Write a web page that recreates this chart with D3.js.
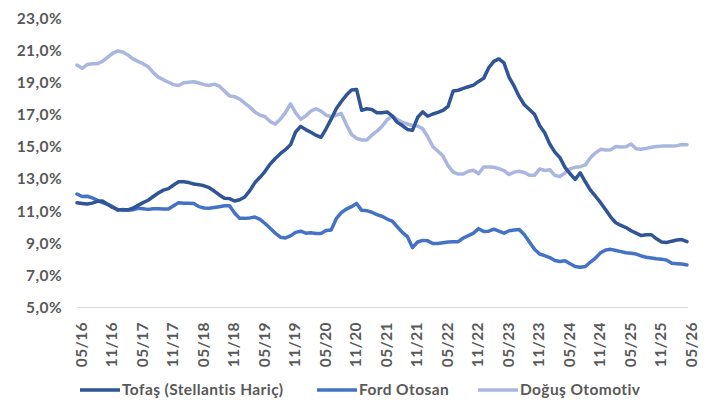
<!DOCTYPE html>
<html>
<head>
<meta charset="utf-8">
<script src="https://cdn.jsdelivr.net/npm/d3@7"></script>
<style>
  body { margin: 0; background: #fff; }
  svg { display: block; font-family: Lato, sans-serif; }
</style>
</head>
<body>
<div id="chart"></div>
<script>
// monthly shares (%) from 05/16 to 05/26
var tofas = [
  11.49, 11.45, 11.41, 11.47, 11.58, 11.6, 11.4, 11.2, 11.08, 11.04,
  11.05, 11.15, 11.33, 11.5, 11.65, 11.88, 12.1, 12.28, 12.37, 12.6,
  12.8, 12.8, 12.75, 12.66, 12.62, 12.55, 12.43, 12.22, 11.98, 11.77,
  11.75, 11.6, 11.68, 11.85, 12.25, 12.75, 13.08, 13.45, 13.9, 14.25,
  14.55, 14.8, 15.1, 15.9, 16.25, 16.05, 15.88, 15.7, 15.57, 16.1,
  16.7, 17.35, 17.8, 18.2, 18.52, 18.55, 17.25, 17.35, 17.3, 17.1,
  17.1, 17.15, 16.9, 16.5, 16.3, 16.06, 16.0, 16.8, 17.15, 16.88,
  17.02, 17.12, 17.25, 17.5, 18.45, 18.5, 18.62, 18.72, 18.82, 19.05,
  19.24, 19.9, 20.3, 20.45, 20.2, 19.3, 18.75, 18.1, 17.6, 17.3,
  17.0, 16.3, 15.85, 15.15, 14.65, 14.3, 13.7, 13.3, 12.95, 13.36,
  12.8, 12.28, 11.9, 11.5, 11.05, 10.6, 10.25, 10.08, 9.95, 9.75,
  9.6, 9.45, 9.5, 9.5, 9.25, 9.05, 9.02, 9.1, 9.17, 9.2,
  9.07
];
var ford = [
  12.04, 11.88, 11.9, 11.8, 11.65, 11.5, 11.4, 11.25, 11.02, 11.07,
  11.02, 11.05, 11.15, 11.12, 11.08, 11.12, 11.12, 11.1, 11.1, 11.3,
  11.5, 11.46, 11.46, 11.45, 11.25, 11.17, 11.15, 11.2, 11.25, 11.3,
  11.3, 10.85, 10.52, 10.52, 10.55, 10.6, 10.46, 10.2, 9.9, 9.6,
  9.35, 9.3, 9.43, 9.65, 9.72, 9.6, 9.62, 9.58, 9.58, 9.76,
  9.8, 10.5, 10.88, 11.1, 11.25, 11.45, 11.02, 11.0, 10.9, 10.75,
  10.65, 10.48, 10.35, 10.0, 9.65, 9.38, 8.7, 9.05, 9.15, 9.12,
  8.95, 8.95, 9.0, 9.05, 9.07, 9.07, 9.3, 9.45, 9.6, 9.88,
  9.7, 9.72, 9.85, 9.72, 9.6, 9.75, 9.8, 9.83, 9.5, 9.05,
  8.6, 8.3, 8.2, 8.08, 7.9, 7.83, 7.88, 7.7, 7.52, 7.47,
  7.52, 7.8, 8.05, 8.38, 8.55, 8.59, 8.52, 8.45, 8.38, 8.35,
  8.3, 8.18, 8.1, 8.05, 8.0, 7.98, 7.92, 7.72, 7.7, 7.68,
  7.62
];
var dogus = [
  20.07, 19.86, 20.1, 20.15, 20.15, 20.3, 20.55, 20.8, 20.95, 20.88,
  20.7, 20.45, 20.3, 20.15, 19.97, 19.6, 19.32, 19.15, 19.0, 18.85,
  18.8, 18.97, 19.0, 19.03, 18.95, 18.85, 18.8, 18.88, 18.75, 18.45,
  18.15, 18.1, 17.95, 17.7, 17.45, 17.15, 16.95, 16.85, 16.55, 16.4,
  16.7, 17.1, 17.65, 17.1, 16.7, 16.9, 17.2, 17.35, 17.2, 16.95,
  16.85, 16.95, 17.05, 16.35, 15.75, 15.5, 15.4, 15.4, 15.7, 15.95,
  16.25, 16.65, 16.9, 16.7, 16.5, 16.4, 16.3, 16.27, 16.1, 15.6,
  15.0, 14.7, 14.4, 13.8, 13.4, 13.28, 13.28, 13.45, 13.52, 13.3,
  13.72, 13.72, 13.7, 13.62, 13.5, 13.25, 13.4, 13.45, 13.38, 13.2,
  13.2, 13.6, 13.5, 13.55, 13.2, 13.13, 13.35, 13.6, 13.7, 13.74,
  13.85, 14.3, 14.6, 14.82, 14.78, 14.8, 15.0, 14.97, 14.98, 15.15,
  14.85, 14.82, 14.88, 14.95, 15.0, 15.02, 15.02, 15.02, 15.05, 15.12,
  15.1
];

var seriesNames = ["Tofaş (Stellantis Hariç)", "Ford Otosan", "Doğuş Otomotiv"];
var seriesColors = ["#2F5597", "#4472C4", "#A9B6DF"];

var xTickLabels = ["05/16", "11/16", "05/17", "11/17", "05/18", "11/18", "05/19",
  "11/19", "05/20", "11/20", "05/21", "11/21", "05/22", "11/22", "05/23", "11/23",
  "05/24", "11/24", "05/25", "11/25", "05/26"];
var yTicks = [5, 7, 9, 11, 13, 15, 17, 19, 21, 23];

var width = 710, height = 407;
var plotLeft = 77, plotRight = 687, plotTop = 18, plotBottom = 307;

// shared label style
function labelStyle(sel) {
  sel.style("font-family", "Lato, sans-serif")
    .style("font-size", "15.5px")
    .style("letter-spacing", "0.4px")
    .style("font-weight", "bold")
    .style("fill", "#595959");
}

var svg = d3.select("#chart").append("svg")
  .attr("width", width)
  .attr("height", height);

var x = d3.scaleLinear()
  .domain([0, tofas.length - 1])
  .range([plotLeft, plotRight]);

var y = d3.scaleLinear()
  .domain([5, 23])
  .range([plotBottom, plotTop]);

// y axis labels only (no grid, no axis line)
var yAxis = d3.axisLeft(y)
  .tickValues(yTicks)
  .tickSize(0)
  .tickPadding(0)
  .tickFormat(function (d) { return d.toFixed(1).replace(".", ",") + "%"; });

var yG = svg.append("g")
  .attr("transform", "translate(" + 62 + ",0)")
  .call(yAxis);
yG.select(".domain").remove();
yG.selectAll("text")
  .attr("dy", "0.35em")
  .call(labelStyle);

// baseline
svg.append("line")
  .attr("x1", plotLeft)
  .attr("x2", plotRight + 1)
  .attr("y1", y(5))
  .attr("y2", y(5))
  .style("stroke", "#D9D9D9")
  .style("stroke-width", "1px")
  .style("shape-rendering", "crispEdges");

// x tick labels, every 6 months, rotated
var xAxis = d3.axisBottom(x)
  .tickValues(xTickLabels.map(function (d, i) { return i * 6; }))
  .tickSize(0)
  .tickPadding(0)
  .tickFormat(function (d) { return xTickLabels[d / 6]; });

var xG = svg.append("g")
  .attr("transform", "translate(0," + (plotBottom + 15) + ")")
  .call(xAxis);
xG.select(".domain").remove();
xG.selectAll("text")
  .attr("transform", "rotate(-90)")
  .attr("text-anchor", "end")
  .attr("x", 0)
  .attr("y", 4)
  .attr("dy", "0.35em")
  .attr("dx", 0)
  .call(labelStyle);

var line = d3.line()
  .x(function (d, i) { return x(i); })
  .y(function (d) { return y(d); })
  .curve(d3.curveLinear);

// draw lighter series first, darkest last
[dogus, ford, tofas].forEach(function (data, k) {
  var idx = 2 - k;
  svg.append("path")
    .datum(data)
    .attr("d", line)
    .style("fill", "none")
    .style("stroke", seriesColors[idx])
    .style("stroke-width", "3.5px")
    .style("stroke-linejoin", "round")
    .style("stroke-linecap", "round");
});

// legend
var legendX = [80, 317, 478];
seriesNames.forEach(function (name, i) {
  var g = svg.append("g")
    .attr("transform", "translate(" + legendX[i] + ",390)");
  g.append("line")
    .attr("x1", 0).attr("x2", 40)
    .attr("y1", 0).attr("y2", 0)
    .style("stroke", seriesColors[i])
    .style("stroke-width", "3.5px");
  g.append("text")
    .attr("x", 42)
    .attr("y", 0)
    .attr("dy", "0.35em")
    .text(name)
    .call(labelStyle);
});
</script>
</body>
</html>
